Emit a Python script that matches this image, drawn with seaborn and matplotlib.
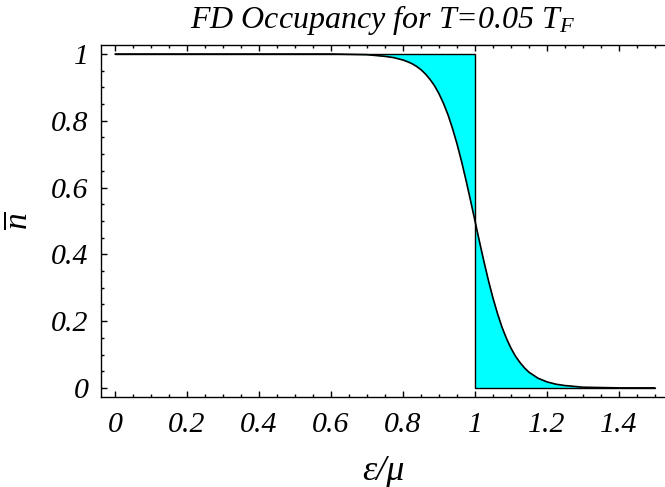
import matplotlib
matplotlib.use("Agg")
import matplotlib.pyplot as plt
from matplotlib.ticker import MultipleLocator
import seaborn as sns

# Datos (ocupacion FD, T = 0.05 T_F)
energia = [0.0, 0.5, 0.6, 0.65, 0.7, 0.75, 0.775, 0.8, 0.8125, 0.825, 0.8375, 0.85,
           0.8625, 0.875, 0.8875, 0.9, 0.9125, 0.925, 0.9375, 0.95, 0.9625, 0.975,
           0.9875, 1.0, 1.0125, 1.025, 1.0375, 1.05, 1.0625, 1.075, 1.0875, 1.1,
           1.1125, 1.125, 1.1375, 1.15, 1.175, 1.2, 1.225, 1.25, 1.3, 1.35, 1.4, 1.5]
ocupacion = [1.0, 1.0, 1.0, 0.999, 0.998, 0.993, 0.989, 0.982, 0.977, 0.971, 0.963,
             0.953, 0.940, 0.924, 0.905, 0.881, 0.852, 0.818, 0.777, 0.731, 0.679,
             0.622, 0.562, 0.5, 0.438, 0.378, 0.321, 0.269, 0.223, 0.182, 0.148,
             0.119, 0.095, 0.076, 0.060, 0.047, 0.029, 0.018, 0.011, 0.007, 0.002,
             0.001, 0.0, 0.0]
# Ocupacion a T = 0 (escalon)
escalon_x = [0.0, 1.0, 1.0, 1.5]
escalon_y = [1.0, 1.0, 0.0, 0.0]
ticks_x = [0, 0.2, 0.4, 0.6, 0.8, 1.0, 1.2, 1.4]
ticks_y = [0, 0.2, 0.4, 0.6, 0.8, 1.0]

sns.set_style("ticks")
plt.rcParams["font.family"] = ["Liberation Serif", "DejaVu Serif"]
plt.rcParams["font.style"] = "italic"
plt.rcParams["mathtext.fontset"] = "custom"
plt.rcParams["mathtext.it"] = "Liberation Serif:italic"
plt.rcParams["mathtext.rm"] = "Liberation Serif:italic"
plt.rcParams["text.color"] = "black"
plt.rcParams["axes.labelcolor"] = "black"
plt.rcParams["xtick.color"] = "black"
plt.rcParams["ytick.color"] = "black"

fig = plt.figure(figsize=(6.65, 4.87), dpi=100)
ax = fig.add_axes([0.152, 0.185, 0.848, 0.7226])

# Relleno entre la curva y el escalon
izq = [e <= 1 for e in energia]
der = [e >= 1 for e in energia]
ax.fill_between(energia, ocupacion, [1] * len(energia), where=izq,
                color="#00ffff", linewidth=0)
ax.fill_between(energia, ocupacion, [0] * len(energia), where=der,
                color="#00ffff", linewidth=0)

sns.lineplot(x=escalon_x, y=escalon_y, estimator=None, sort=False,
             color="black", linewidth=1.0, ax=ax)
sns.lineplot(x=energia, y=ocupacion, estimator=None, sort=False,
             color="black", linewidth=1.2, ax=ax)

ax.set_xlim(-0.039, 1.528)
ax.set_ylim(-0.027, 1.027)

ax.xaxis.set_minor_locator(MultipleLocator(0.05))
ax.yaxis.set_minor_locator(MultipleLocator(0.05))

def fmt(v):
    s = f"{v:.1f}"
    return s[:-2] if s.endswith(".0") else s

ax.set_xticks(ticks_x)
ax.set_xticklabels([fmt(v) for v in ticks_x])
ax.set_yticks(ticks_y)
ax.set_yticklabels([fmt(v) for v in ticks_y])

ax.tick_params(which="both", direction="in", top=True, right=False, width=1.0)
ax.tick_params(which="major", length=4)
ax.tick_params(which="minor", length=2.2)
ax.tick_params(axis="x", which="major", labelsize=21.5, pad=11)
ax.tick_params(axis="y", which="major", labelsize=21.5, pad=9)

for lado in ["left", "bottom", "top"]:
    ax.spines[lado].set_linewidth(1.0)
    ax.spines[lado].set_color("black")
ax.spines["right"].set_visible(False)

ax.set_title("FD Occupancy for T=0.05 $T_F$", fontsize=23, pad=12)
ax.set_xlabel("ε/μ", fontsize=26, labelpad=12)
ax.set_ylabel(r"$\overline{n}$", fontsize=24, labelpad=12)

plt.savefig("out.png", dpi=100)
